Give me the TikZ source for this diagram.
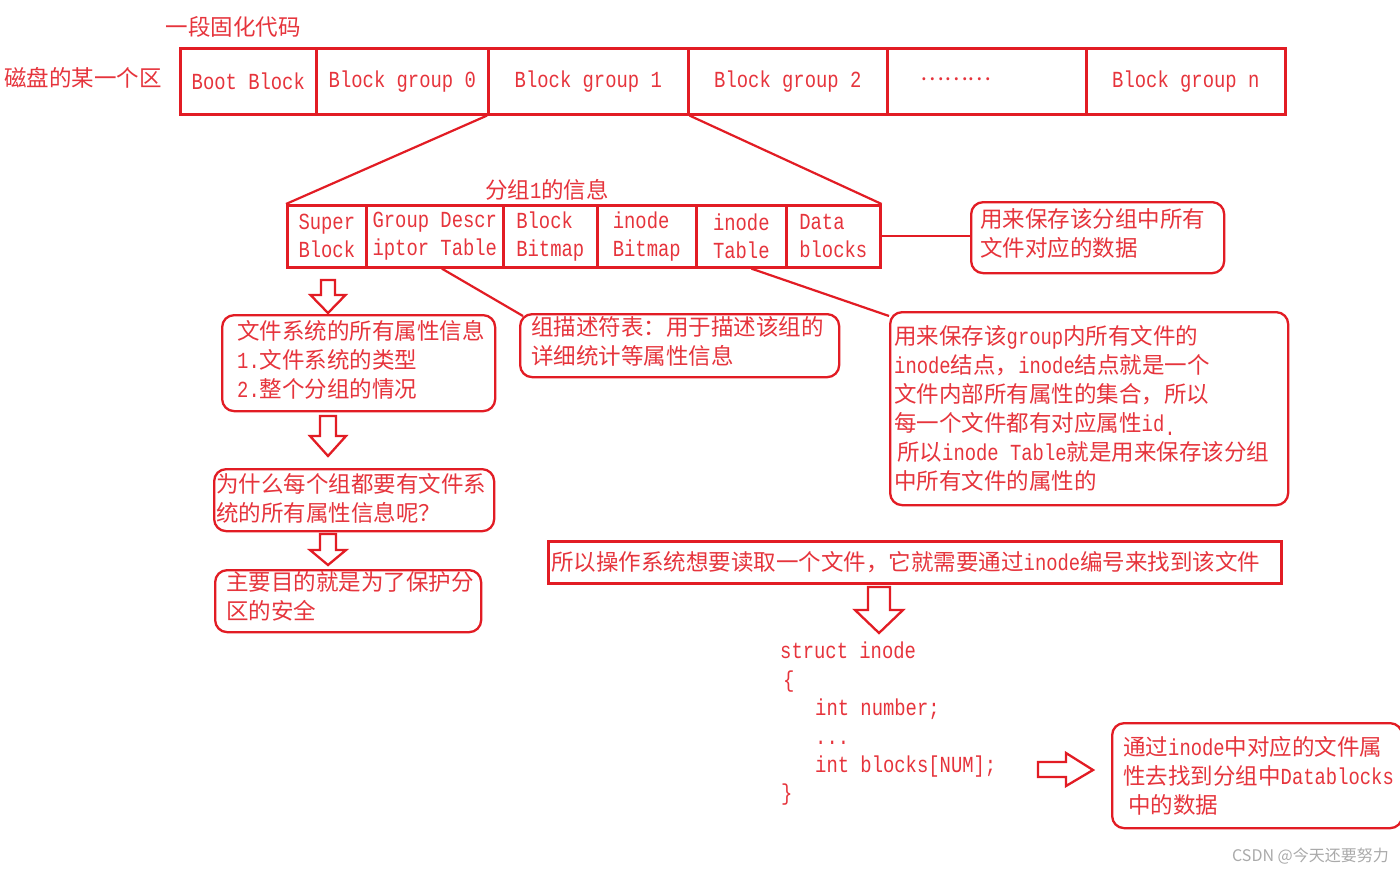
\documentclass[tikz,border=0pt]{standalone}
\usepackage{fontspec}
\newfontfamily\cjk{Noto Sans CJK SC}
\newfontfamily\monof[FakeStretch=0.82]{Liberation Mono}
\definecolor{lred}{RGB}{226,28,36}
\definecolor{tred}{RGB}{230,52,60}
\definecolor{wmgray}{RGB}{170,170,170}
\newcommand\mm[1]{{\monof\fontsize{23}{29}\selectfont #1}}
\newcommand\DArrow[6]{%
  \draw[harrow] ({#1-#4},#2) -- ({#1+#4},#2) -- ({#1+#4},{#3-#6}) -- ({#1+#5},{#3-#6}) -- (#1,#3) -- ({#1-#5},{#3-#6}) -- ({#1-#4},{#3-#6}) -- cycle;}
\tikzset{
  cell/.style={draw=lred, line width=2.6pt, rectangle, inner sep=0pt, anchor=north west,
    text=tred, font=\monof\fontsize{23}{28}\selectfont, align=left},
  rbox/.style={draw=lred, line width=2.3pt, rounded corners=12pt, anchor=north west, inner sep=0pt},
  sbox/.style={draw=lred, line width=2.6pt, anchor=north west, inner sep=0pt},
  txt/.style={text=tred, inner sep=0pt, anchor=west, align=left, font=\cjk\fontsize{22.5}{29}\selectfont},
  code/.style={text=tred, inner sep=0pt, anchor=west, align=left, font=\monof\fontsize{23}{28.4}\selectfont},
  link/.style={draw=lred, line width=2.2pt},
  harrow/.style={draw=lred, fill=white, line width=2.3pt, line join=miter},
}
\begin{document}
\begin{tikzpicture}[x=1pt,y=-1pt]
\useasboundingbox[fill=white] (0,0) rectangle (1400,872);

% labels
\node[txt, anchor=center] (fixed) at (233,27) {一段固化代码};
\node[txt, anchor=center] (area) at (83,78) {磁盘的某一个区};

% top bar
\node[cell, minimum width=136pt, minimum height=66pt] (boot) at (179,47) {Boot Block};
\node[cell, minimum width=172pt, minimum height=66pt] (g0) at (315,47) {Block group 0};
\node[cell, minimum width=200pt, minimum height=66pt] (g1) at (487,47) {Block group 1};
\node[cell, minimum width=199pt, minimum height=66pt] (g2) at (687,47) {Block group 2};
\node[cell, minimum width=199pt, minimum height=66pt] (gdots) at (886,47) {};
\node[cell, minimum width=199pt, minimum height=66pt] (gn) at (1085,47) {Block group n};
\node[txt, anchor=center] (dots) at (956,79) {………};

% group 1 detail
\node[txt, anchor=center] (g1title) at (547,190) {分组\mm{1}的信息};
\node[cell, minimum width=79pt, minimum height=62pt] (sup) at (286,204) {Super\\Block};
\node[cell, minimum width=137pt, minimum height=62pt] (gdt) at (365,204) {Group Descr\\iptor Table};
\node[cell, minimum width=94pt, minimum height=62pt] (bbm) at (502,204) {Block\\Bitmap};
\node[cell, minimum width=99pt, minimum height=62pt] (ibm) at (596,204) {inode\\Bitmap};
\node[cell, minimum width=90pt, minimum height=62pt] (itab) at (695,204) {inode\\Table};
\node[cell, minimum width=94pt, minimum height=62pt] (data) at (785,204) {Data\\blocks};

\draw[link] (g1.south west) -- (sup.north west);
\draw[link] (g1.south east) -- (data.north east);

% boxes
\node[rbox, minimum width=253pt, minimum height=71pt] (datadesc) at (970,201) {};
\node[txt] (datadesct) at (980,233) {用来保存该分组中所有\\文件对应的数据};

\node[rbox, minimum width=273pt, minimum height=96pt] (sb) at (221,314) {};
\node[txt] (sbt) at (237,360) {文件系统的所有属性信息\\\mm{1.}文件系统的类型\\\mm{2.}整个分组的情况};

\node[rbox, minimum width=319pt, minimum height=63pt] (gdtdesc) at (519,313) {};
\node[txt] (gdtdesct) at (531,341.5) {组描述符表：用于描述该组的\\详细统计等属性信息};

\node[rbox, minimum width=398pt, minimum height=193pt] (ibox) at (889,311) {};
\node[txt] (iboxt) at (894,408) {用来保存该\mm{group}内所有文件的\\\mm{inode}结点，\mm{inode}结点就是一个\\文件内部所有属性的集合，所以\\每一个文件都有对应属性\mm{id}\raisebox{-4pt}{\mm{.}}\\\hspace*{3pt}所以\mm{inode~Table}就是用来保存该分组\\中所有文件的属性的};

\node[rbox, minimum width=280pt, minimum height=62pt] (why) at (213,468) {};
\node[txt] (whyt) at (216,498) {为什么每个组都要有文件系\\统的所有属性信息呢？};

\node[rbox, minimum width=266pt, minimum height=62pt] (goal) at (214,569) {};
\node[txt] (goalt) at (226,596) {主要目的就是为了保护分\\区的安全};

\node[sbox, minimum width=733pt, minimum height=42pt] (os) at (547,540) {};
\node[txt] (ost) at (551,562) {所以操作系统想要读取一个文件，它就需要通过\mm{inode}编号来找到该文件};

\node[rbox, minimum width=290pt, minimum height=105pt] (final) at (1111,722) {};
\node[txt] (finalt) at (1123,776) {通过\mm{inode}中对应的文件属\\性去找到分组中\mm{Datablocks}\\\hspace*{5pt}中的数据};

% code
\node[code] (codet) at (780,724) {struct inode\\\hspace*{3pt}\{\\\hspace*{35pt}int number;\\\hspace*{35pt}...\\\hspace*{35pt}int blocks[NUM];\\\hspace*{1pt}\}};

% connectors
\draw[link] (data.east) -- (data.east -| datadesc.west);
\draw[link] ([xshift=7pt]gdt.south) -- ([xshift=4pt,yshift=-3pt]gdtdesc.north west);
\draw[link] ([xshift=10pt]itab.south) -- ([yshift=-5pt]ibox.north west);

% hollow arrows
\DArrow{328}{280}{313}{7}{17.5}{18}
\DArrow{328}{416}{456}{8}{18}{20}
\DArrow{328}{534}{565}{8}{18}{15}
\DArrow{879}{587}{633}{11}{24}{23}
\draw[harrow] (1038,762) -- (1066,762) -- (1066,753) -- (1093,770) -- (1066,786) -- (1066,777) -- (1038,777) -- cycle;

% watermark
\node[inner sep=0pt, anchor=east, text=wmgray, font=\cjk\fontsize{16}{18}\selectfont] (wm) at (1389,856) {CSDN @今天还要努力};
\end{tikzpicture}
\end{document}
